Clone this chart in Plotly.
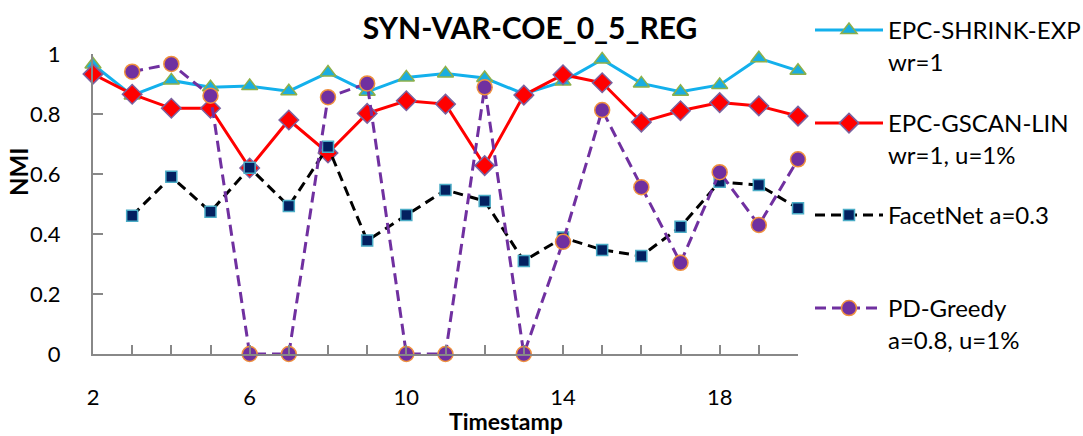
import plotly.graph_objects as go

W, H = 1083, 436

# Timestamps and NMI per method
timestamps = list(range(2, 21))
shrink_exp = [0.965, 0.862, 0.912, 0.889, 0.893, 0.876, 0.938, 0.874, 0.922, 0.935,
              0.920, 0.867, 0.908, 0.982, 0.902, 0.874, 0.897, 0.986, 0.944]
gscan_lin = [0.933, 0.866, 0.819, 0.819, 0.620, 0.780, 0.670, 0.802, 0.844, 0.833,
             0.628, 0.863, 0.931, 0.904, 0.773, 0.811, 0.838, 0.827, 0.793]
facetnet_t = list(range(3, 21))
facetnet = [0.461, 0.591, 0.474, 0.621, 0.493, 0.691, 0.378, 0.463, 0.547, 0.510,
            0.310, 0.388, 0.347, 0.327, 0.424, 0.574, 0.563, 0.486]
pd_greedy_t = list(range(3, 21))
pd_greedy = [0.941, 0.967, 0.861, 0.0, 0.0, 0.856, 0.902, 0.0, 0.0, 0.889,
             0.0, 0.374, 0.813, 0.556, 0.304, 0.606, 0.430, 0.649]

y_ticks = [0, 0.2, 0.4, 0.6, 0.8, 1]
y_tick_labels = ["0", "0.2", "0.4", "0.6", "0.8", "1"]
x_ticks = [2, 6, 10, 14, 18]
x_tick_labels = ["2", "6", "10", "14", "18"]

FONT = "Lato"
AXIS_GREY = "#888888"

fig = go.Figure()

series = [
    dict(x=timestamps, y=shrink_exp, name="EPC-SHRINK-EXP<br>wr=1",
         line=dict(color="#13B0EC", width=3),
         marker=dict(symbol="triangle-up", size=14, color="#1AADE0",
                     line=dict(color="#8DB04A", width=1.5)),
         legend="legend"),
    dict(x=timestamps, y=gscan_lin, name="EPC-GSCAN-LIN<br>wr=1, u=1%",
         line=dict(color="#FF0000", width=3),
         marker=dict(symbol="diamond", size=15, color="#FF0000",
                     line=dict(color="#7A62A0", width=1.5)),
         legend="legend2"),
    dict(x=facetnet_t, y=facetnet, name="FacetNet a=0.3",
         line=dict(color="#000000", width=3, dash="10px,6px"),
         marker=dict(symbol="square", size=11, color="#032060",
                     line=dict(color="#4BACC6", width=1.5)),
         legend="legend3"),
    dict(x=pd_greedy_t, y=pd_greedy, name="PD-Greedy<br>a=0.8, u=1%",
         line=dict(color="#7030A0", width=3, dash="11px,6px"),
         marker=dict(symbol="circle", size=15, color="#7030A0",
                     line=dict(color="#F0913E", width=1.5)),
         legend="legend4"),
]
for s in series:
    fig.add_trace(go.Scatter(mode="lines+markers", cliponaxis=False,
                             showlegend=True, **s))

legend_common = dict(
    xref="container", yref="container", xanchor="left", yanchor="top",
    font=dict(family=FONT, size=24, color="#000000"),
    bgcolor="rgba(0,0,0,0)", itemwidth=68, valign="top",
    borderwidth=0, tracegroupgap=0,
)
legend_tops = [8, 101, 193, 286]
fig.update_layout(
    showlegend=True,
    legend=dict(x=810 / W, y=1 - legend_tops[0] / H, **legend_common),
    legend2=dict(x=810 / W, y=1 - legend_tops[1] / H, **legend_common),
    legend3=dict(x=810 / W, y=1 - legend_tops[2] / H, **legend_common),
    legend4=dict(x=810 / W, y=1 - legend_tops[3] / H, **legend_common),
)

fig.update_layout(
    width=W, height=H,
    margin=dict(l=93, r=W - 798, t=54, b=H - 354, pad=0),
    paper_bgcolor="white", plot_bgcolor="white",
    font=dict(family=FONT, color="#000000"),
    title=dict(text="<b>SYN-VAR-COE_0_5_REG</b>", x=530 / W, xanchor="center",
               y=1 - 28 / H, yanchor="middle",
               font=dict(family=FONT, size=30, color="#000000")),
    xaxis=dict(range=[2, 20], tickvals=x_ticks, ticktext=x_tick_labels,
               showgrid=False, zeroline=False, showline=True,
               linecolor=AXIS_GREY, linewidth=2,
               ticks="inside", ticklen=9, tickwidth=1.5, tickcolor=AXIS_GREY,
               minor=dict(dtick=1, tick0=2, ticks="inside", ticklen=9,
                          tickwidth=1.5, tickcolor=AXIS_GREY, showgrid=False),
               ticklabelstandoff=23,
               tickfont=dict(family=FONT, size=22, color="#000000")),
    yaxis=dict(range=[0, 1], tickvals=y_ticks, ticktext=y_tick_labels,
               showgrid=False, zeroline=False, showline=True,
               linecolor=AXIS_GREY, linewidth=2,
               ticks="inside", ticklen=10, tickwidth=1.5, tickcolor=AXIS_GREY,
               ticklabelstandoff=26,
               tickfont=dict(family=FONT, size=22, color="#000000")),
    annotations=[
        dict(text="<b>Timestamp</b>", xref="paper", yref="paper",
             x=(506 - 93) / (798 - 93), y=-(421 - 354) / 300,
             xanchor="center", yanchor="middle", showarrow=False,
             font=dict(family=FONT, size=23, color="#000000")),
        dict(text="<b>NMI</b>", xref="paper", yref="paper",
             x=-(93 - 18) / (798 - 93), y=(354 - 172) / 300,
             xanchor="center", yanchor="middle", showarrow=False, textangle=-90,
             font=dict(family=FONT, size=24, color="#000000")),
    ],
)

fig.write_html("out.html")
